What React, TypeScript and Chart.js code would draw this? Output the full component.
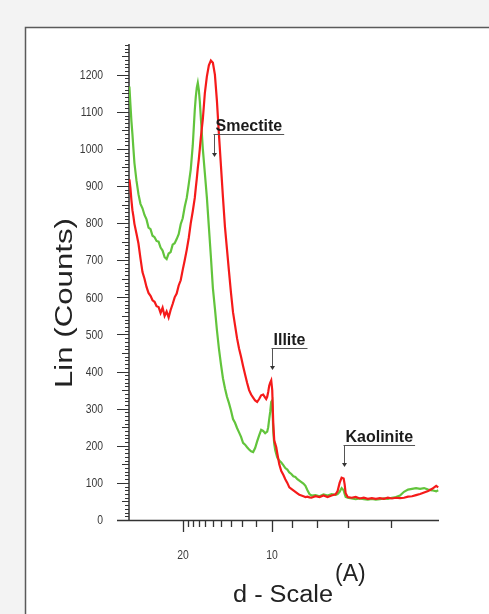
import React, { useEffect, useRef } from "react";
import { Chart, registerables } from "chart.js";
Chart.register(...registerables);

// 2-theta positions (degrees, Cu K-alpha)
const twoTheta = [
  1.75, 1.8, 1.85, 1.9, 1.95, 2.0, 2.1, 2.2, 2.3, 2.4, 2.5, 2.6, 2.7, 2.8, 2.9, 3.0,
  3.1, 3.2, 3.3, 3.4, 3.5, 3.6, 3.7, 3.8, 3.9, 4.0, 4.1, 4.2, 4.3, 4.4, 4.5, 4.6,
  4.7, 4.8, 4.9, 5.0, 5.05, 5.1, 5.15, 5.2, 5.25, 5.3, 5.4, 5.5, 5.6, 5.7, 5.8, 5.9,
  6.0, 6.1, 6.2, 6.3, 6.4, 6.5, 6.6, 6.7, 6.8, 6.9, 7.0, 7.1, 7.2, 7.3, 7.4, 7.5,
  7.6, 7.7, 7.8, 7.9, 8.0, 8.1, 8.2, 8.3, 8.4, 8.5, 8.55, 8.6, 8.65, 8.7, 8.75, 8.8,
  8.85, 8.9, 8.95, 9.0, 9.05, 9.1, 9.2, 9.3, 9.4, 9.5, 9.6, 9.7, 9.8, 9.9, 10.0, 10.1,
  10.2, 10.3, 10.4, 10.5, 10.6, 10.7, 10.8, 11.0, 11.2, 11.4, 11.6, 11.8, 12.0, 12.1, 12.2, 12.3,
  12.4, 12.45, 12.5, 12.6, 12.8, 13.0, 13.2, 13.4, 13.6, 13.8, 14.0, 14.2, 14.4, 14.6, 14.8, 15.0,
  15.2, 15.4, 15.6, 15.8, 16.0, 16.2, 16.4, 16.6, 16.8, 17.0, 17.1,
];

const greenCounts = [
  1168, 1120, 1075, 1040, 1000, 962, 915, 878, 852, 840, 822, 810, 788, 784, 766, 762,
  752, 750, 734, 726, 708, 703, 718, 722, 742, 746, 757, 770, 797, 813, 844, 868,
  905, 945, 1010, 1105, 1140, 1165, 1178, 1160, 1128, 1085, 1000, 935, 870, 790, 710, 625,
  570, 512, 462, 420, 382, 355, 332, 315, 295, 272, 262, 248, 236, 224, 208, 203,
  196, 190, 185, 183, 194, 212, 228, 243, 240, 234, 236, 238, 250, 272, 292, 318,
  322, 240, 205, 188, 178, 168, 160, 155, 148, 140, 136, 128, 124, 118, 116, 110,
  106, 102, 98, 92, 80, 70, 66, 67, 64, 69, 66, 70, 68, 70, 76, 86,
  80, 70, 62, 60, 58, 56, 58, 56, 55, 57, 55, 56, 58, 57, 60, 62,
  66, 76, 82, 84, 86, 84, 86, 82, 80, 77, 80,
];

const redCounts = [
  918, 895, 862, 835, 818, 798, 772, 745, 705, 668, 650, 628, 612, 604, 592, 588,
  576, 574, 558, 572, 550, 562, 546, 566, 582, 600, 610, 632, 646, 674, 700, 728,
  760, 800, 832, 868, 895, 920, 948, 972, 1000, 1030, 1080, 1150, 1195, 1225, 1238, 1232,
  1200, 1130, 1040, 955, 870, 790, 730, 670, 612, 560, 525, 490, 462, 440, 415, 392,
  370, 350, 338, 330, 322, 318, 326, 336, 338, 330, 326, 332, 345, 362, 370, 376,
  350, 262, 215, 205, 196, 180, 150, 132, 122, 110, 100, 88, 84, 80, 76, 72,
  68, 66, 64, 62, 63, 61, 60, 64, 62, 66, 62, 66, 69, 78, 100, 114,
  112, 96, 72, 62, 60, 62, 58, 60, 57, 59, 57, 59, 57, 60, 58, 60,
  59, 60, 63, 64, 67, 70, 74, 78, 84, 92, 88,
];

const yTickValues = [0, 100, 200, 300, 400, 500, 600, 700, 800, 900, 1000, 1100, 1200];
const yMax = 1280;
const xMin = 1.73;
const xMax = 17.14;

// d-spacing (Angstrom) ticks of the bottom axis
const xMajorD = [20, 10];
const xMajorLabels = ["20", "10"];
const xMinorD = [19, 18, 17, 16, 15, 14, 13, 12, 11, 9, 8, 7, 6];

// peak annotations: label, 2-theta, count at bar, count at arrow tip
const peakLabels = ["Smectite", "Illite", "Kaolinite"];
const peakTwoTheta = [5.955, 8.838, 12.417];
const peakBarCounts = [1040, 463, 202];
const peakTipCounts = [978, 404, 143];

const yTitle = "Lin (Counts)";
const xTitle = "d - Scale";
const xUnit = "(A)";

const LAMBDA = 1.5406;
const dToTwoTheta = (d: number) => (2 * Math.asin(LAMBDA / (2 * d)) * 180) / Math.PI;

const LABEL_FONT = "13px Arial, 'Liberation Sans', sans-serif";

const decorPlugin = {
  id: "decor",
  beforeDraw(chart: any) {
    const ctx = chart.ctx;
    ctx.save();
    ctx.fillStyle = "#f3f3f3";
    ctx.fillRect(0, 0, chart.width, chart.height);
    ctx.fillStyle = "#ffffff";
    ctx.fillRect(25, 27, chart.width, chart.height);
    ctx.strokeStyle = "#5a5a5a";
    ctx.lineWidth = 1.5;
    ctx.beginPath();
    ctx.moveTo(25.5, chart.height + 5);
    ctx.lineTo(25.5, 27.5);
    ctx.lineTo(chart.width + 5, 27.5);
    ctx.stroke();
    ctx.restore();
  },
  beforeDatasetsDraw(chart: any) {
    const ctx = chart.ctx;
    const ca = chart.chartArea;
    const xs = chart.scales.x;
    const ys = chart.scales.y;
    ctx.save();
    ctx.strokeStyle = "#333";
    ctx.lineWidth = 1.5;
    // axes
    ctx.beginPath();
    ctx.moveTo(ca.left, ys.getPixelForValue(yMax) - 1);
    ctx.lineTo(ca.left, ca.bottom + 1);
    ctx.moveTo(ca.left - 12, ca.bottom + 0.5);
    ctx.lineTo(ca.right, ca.bottom + 0.5);
    ctx.stroke();
    // y ticks
    ctx.lineWidth = 1;
    ctx.beginPath();
    for (let v = 0; v <= yMax; v += 10) {
      const len = v % 100 === 0 ? 12 : v % 50 === 0 ? 7 : 4;
      const y = Math.round(ys.getPixelForValue(v)) + 0.5;
      ctx.moveTo(ca.left - len, y);
      ctx.lineTo(ca.left, y);
    }
    ctx.stroke();
    // x ticks
    ctx.lineWidth = 1.3;
    ctx.beginPath();
    xMajorD.forEach((d) => {
      const x = Math.round(xs.getPixelForValue(dToTwoTheta(d))) + 0.5;
      ctx.moveTo(x, ca.bottom);
      ctx.lineTo(x, ca.bottom + 12);
    });
    xMinorD.forEach((d) => {
      const x = Math.round(xs.getPixelForValue(dToTwoTheta(d))) + 0.5;
      ctx.moveTo(x, ca.bottom);
      ctx.lineTo(x, ca.bottom + (d < 10 ? 8 : 7));
    });
    ctx.stroke();
    // tick labels (narrowed, as in the original)
    ctx.fillStyle = "#3a3a3a";
    ctx.font = LABEL_FONT;
    ctx.textBaseline = "middle";
    ys.ticks.forEach((t: any) => {
      ctx.save();
      ctx.translate(ca.left - 26, ys.getPixelForValue(t.value) + 0.5);
      ctx.scale(0.8, 1.05);
      ctx.textAlign = "right";
      ctx.fillText(t.label, 0, 0);
      ctx.restore();
    });
    xs.ticks.forEach((t: any) => {
      ctx.save();
      ctx.translate(xs.getPixelForValue(t.value), ca.bottom + 35);
      ctx.scale(0.8, 1.05);
      ctx.textAlign = "center";
      ctx.fillText(t.label, 0, 0);
      ctx.restore();
    });
    ctx.restore();
  },
  afterDatasetsDraw(chart: any) {
    const ctx = chart.ctx;
    const ca = chart.chartArea;
    const xs = chart.scales.x;
    const ys = chart.scales.y;
    ctx.save();
    // annotations
    ctx.font = "bold 16px Arial, 'Liberation Sans', sans-serif";
    ctx.textAlign = "left";
    ctx.textBaseline = "alphabetic";
    peakLabels.forEach((label, i) => {
      const x = Math.round(xs.getPixelForValue(peakTwoTheta[i])) + 0.5;
      const yBar = Math.round(ys.getPixelForValue(peakBarCounts[i])) + 0.5;
      const yTip = ys.getPixelForValue(peakTipCounts[i]);
      const w = ctx.measureText(label).width;
      ctx.fillStyle = "#1c1c1c";
      ctx.fillText(label, x + 1, yBar - 4);
      ctx.strokeStyle = "#555";
      ctx.lineWidth = 1;
      ctx.beginPath();
      ctx.moveTo(x - 1, yBar);
      ctx.lineTo(x + w + 3, yBar);
      ctx.moveTo(x, yBar);
      ctx.lineTo(x, yTip - 3);
      ctx.stroke();
      ctx.fillStyle = "#333";
      ctx.beginPath();
      ctx.moveTo(x - 2.5, yTip - 4);
      ctx.lineTo(x + 2.5, yTip - 4);
      ctx.lineTo(x, yTip);
      ctx.closePath();
      ctx.fill();
    });
    // y title
    ctx.fillStyle = "#222";
    ctx.font = "23px Arial, 'Liberation Sans', sans-serif";
    ctx.save();
    ctx.translate(72, 303);
    ctx.rotate(-Math.PI / 2);
    const wy = ctx.measureText(yTitle).width;
    ctx.scale(170 / wy, 1);
    ctx.textAlign = "center";
    ctx.textBaseline = "alphabetic";
    ctx.fillText(yTitle, 0, 0);
    ctx.restore();
    // x title
    ctx.save();
    ctx.font = "23px Arial, 'Liberation Sans', sans-serif";
    const wx = ctx.measureText(xTitle).width;
    const cx = (ca.left + ca.right) / 2 - 1;
    ctx.translate(cx, 602);
    ctx.scale(100 / wx, 1);
    ctx.textAlign = "center";
    ctx.textBaseline = "alphabetic";
    ctx.fillText(xTitle, 0, 0);
    ctx.restore();
    ctx.font = "23px Arial, 'Liberation Sans', sans-serif";
    ctx.textAlign = "left";
    ctx.fillText(xUnit, cx + 52, 581);
    ctx.restore();
  },
};

export default function App() {
  const ref = useRef<HTMLCanvasElement | null>(null);
  useEffect(() => {
    if (!ref.current) return;
    const chart = new Chart(ref.current, {
      type: "line",
      data: {
        datasets: [
          {
            label: "red",
            data: twoTheta.map((t, i) => ({ x: t, y: redCounts[i] })),
            borderColor: "#f51a1a",
            borderWidth: 2.2,
            pointRadius: 0,
            tension: 0,
            fill: false,
          },
          {
            label: "green",
            data: twoTheta.map((t, i) => ({ x: t, y: greenCounts[i] })),
            borderColor: "#62c43c",
            borderWidth: 2.2,
            pointRadius: 0,
            tension: 0,
            fill: false,
          },
        ],
      },
      plugins: [decorPlugin],
      options: {
        responsive: false,
        animation: false,
        events: [],
        layout: { padding: { left: 0, right: 50, top: 45, bottom: 0 } },
        plugins: { legend: { display: false }, tooltip: { enabled: false } },
        scales: {
          x: {
            type: "linear",
            min: xMin,
            max: xMax,
            grid: { display: false, drawTicks: false },
            border: { display: false },
            afterBuildTicks: (s: any) => {
              s.ticks = xMajorD.map((d) => ({ value: dToTwoTheta(d) }));
            },
            afterFit: (s: any) => {
              s.height = 94;
            },
            ticks: {
              display: false,
              autoSkip: false,
              maxRotation: 0,
              callback: (_v: any, i: number) => xMajorLabels[i],
            },
          },
          y: {
            type: "linear",
            min: 0,
            max: yMax,
            grid: { display: false, drawTicks: false },
            border: { display: false },
            afterBuildTicks: (s: any) => {
              s.ticks = yTickValues.map((v) => ({ value: v }));
            },
            afterFit: (s: any) => {
              s.width = 129;
            },
            ticks: {
              display: false,
              autoSkip: false,
              callback: (v: any) => String(v),
            },
          },
        },
      },
    });
    return () => chart.destroy();
  }, []);
  return (
    <div style={{ position: "fixed", left: 0, top: 0, width: 489, height: 614 }}>
      <canvas ref={ref} width={489} height={614} style={{ display: "block", width: 489, height: 614 }} />
    </div>
  );
}
